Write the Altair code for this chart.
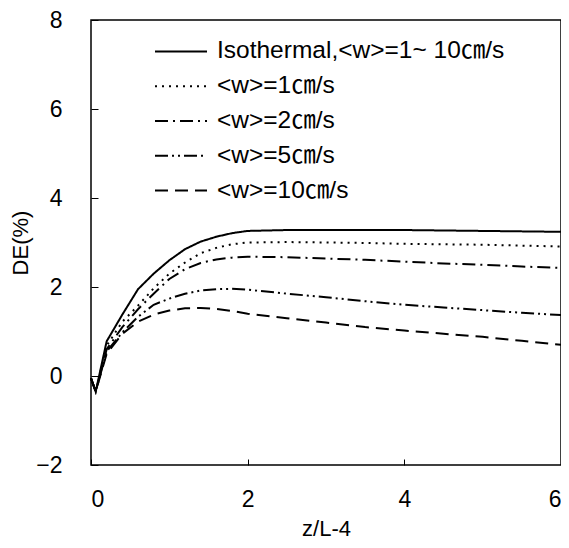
import altair as alt
import pandas as pd

x_vals = [0, 0.06, 0.2, 0.4, 0.6, 0.8, 1.0, 1.2, 1.4, 1.6, 1.8, 2.0, 2.5, 3.0, 3.5, 4.0, 4.5, 5.0, 5.5, 6.0]

series_names = [
    "Isothermal,<w>=1~ 10㎝/s",
    "<w>=1㎝/s",
    "<w>=2㎝/s",
    "<w>=5㎝/s",
    "<w>=10㎝/s",
]

iso = [-0.05, -0.35, 0.78, 1.38, 1.95, 2.30, 2.60, 2.85, 3.02, 3.13, 3.21, 3.26, 3.28, 3.28, 3.28, 3.28, 3.27, 3.26, 3.25, 3.24]
w1 = [-0.05, -0.35, 0.68, 1.22, 1.58, 1.97, 2.30, 2.55, 2.76, 2.88, 2.96, 3.00, 3.01, 3.00, 2.99, 2.97, 2.96, 2.95, 2.93, 2.91]
w2 = [-0.05, -0.35, 0.60, 1.10, 1.50, 1.85, 2.18, 2.40, 2.54, 2.62, 2.66, 2.68, 2.67, 2.64, 2.61, 2.57, 2.53, 2.50, 2.46, 2.43]
w5 = [-0.05, -0.35, 0.55, 0.98, 1.33, 1.60, 1.74, 1.85, 1.92, 1.95, 1.96, 1.94, 1.85, 1.77, 1.68, 1.60, 1.54, 1.48, 1.42, 1.37]
w10 = [-0.05, -0.35, 0.50, 0.95, 1.22, 1.38, 1.47, 1.52, 1.53, 1.51, 1.46, 1.40, 1.30, 1.20, 1.10, 1.02, 0.95, 0.88, 0.79, 0.70]

series_values = [iso, w1, w2, w5, w10]
dashes = [[1, 0], [2, 5], [13, 5, 2, 5], [13, 4, 2, 4, 2, 4], [13, 7]]

rows = []
for name, vals in zip(series_names, series_values):
    for xv, yv in zip(x_vals, vals):
        rows.append({"x": xv, "y": yv, "series": name})
df = pd.DataFrame(rows)
legend_df = pd.DataFrame({"series": series_names})

FONT = "Liberation Sans, Arial, Noto Sans CJK KR"

dash_scale = alt.Scale(domain=series_names, range=dashes)

lines = (
    alt.Chart(df)
    .mark_line(color="black", strokeWidth=2)
    .encode(
        x=alt.X(
            "x:Q",
            scale=alt.Scale(domain=[0, 6], nice=False),
            axis=alt.Axis(
                title="z/L-4",
                values=[0, 2, 4, 6],
                grid=False,
                domain=False,
                tickSize=6,
                offset=-6,
                tickColor="black",
                labelPadding=23,
                labelFontSize=23,
                labelFont=FONT,
                labelColor="black",
                titleFont=FONT,
                titleFontSize=22,
                titleFontWeight="normal",
                titleColor="black",
                titlePadding=7,
            ),
        ),
        y=alt.Y(
            "y:Q",
            scale=alt.Scale(domain=[-2, 8], nice=False),
            axis=alt.Axis(
                title="DE(%)",
                values=[-2, 0, 2, 4, 6, 8],
                grid=False,
                domain=False,
                tickSize=7,
                offset=-7,
                tickColor="black",
                labelPadding=29,
                labelFontSize=23,
                labelFont=FONT,
                labelColor="black",
                titleFont=FONT,
                titleFontSize=22,
                titleFontWeight="normal",
                titleColor="black",
                titlePadding=3,
            ),
        ),
        strokeDash=alt.StrokeDash("series:N", scale=dash_scale, legend=None),
        detail="series:N",
    )
)

legend_y = alt.Y(
    "series:N",
    sort=series_names,
    scale=alt.Scale(type="point", domain=series_names, range=[14, 188], padding=0.5),
    axis=None,
)

legend_rules = (
    alt.Chart(legend_df)
    .mark_rule(color="black", strokeWidth=2)
    .encode(
        y=legend_y,
        x=alt.value(64),
        x2=alt.value(116),
        strokeDash=alt.StrokeDash("series:N", scale=dash_scale, legend=None),
    )
)

legend_text = (
    alt.Chart(legend_df)
    .mark_text(align="left", baseline="middle", font=FONT, fontSize=24.5, color="black")
    .encode(y=legend_y, x=alt.value(126), text="series:N")
)

chart = (
    alt.layer(lines, legend_rules + legend_text)
    .resolve_scale(y="independent")
    .properties(
        width=470,
        height=445,
        padding={"left": 83, "top": 12, "right": 0, "bottom": 75},
        autosize=alt.AutoSizeParams(type="none"),
        background="white",
    )
    .configure_view(stroke="black", strokeWidth=1.5)
)

chart.save("out.html", embed_options={"renderer": "svg", "actions": False})
